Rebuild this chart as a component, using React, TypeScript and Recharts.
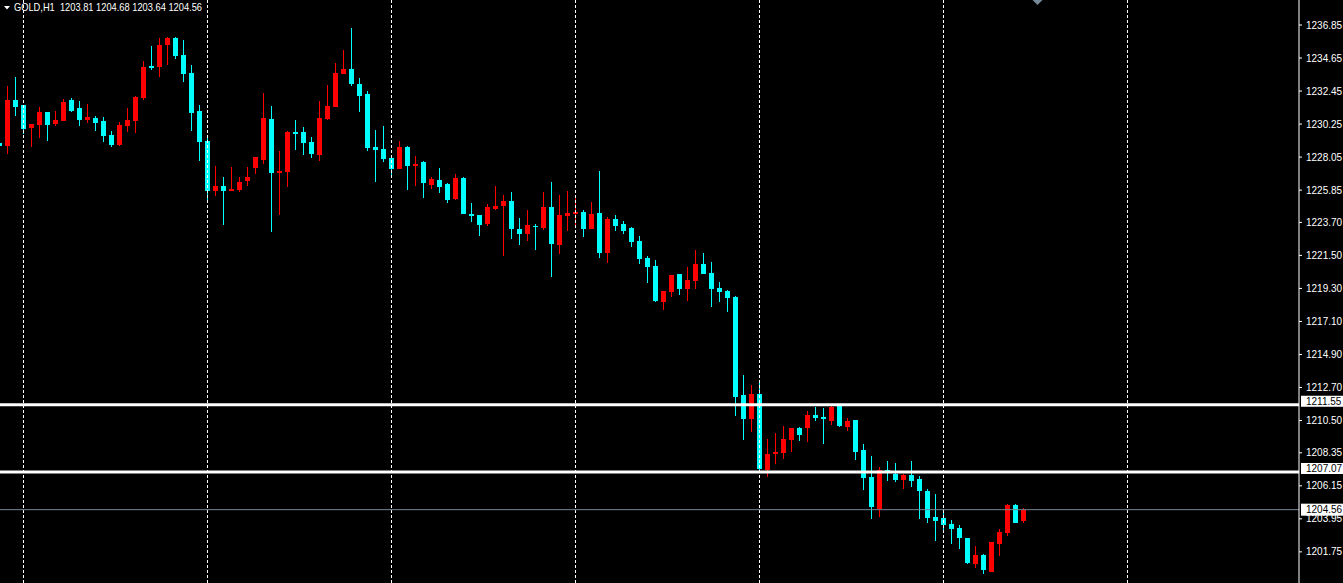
import React from 'react';
import { ComposedChart, Bar, XAxis, YAxis, ReferenceLine, ReferenceDot, Customized } from 'recharts';

const opens = [1228.99,1228.81,1231.87,1231.52,1230.01,1230.21,1231.05,1230.28,1230.47,1231.85,1231.32,1230.54,1230.65,1230.45,1229.52,1228.86,1230.14,1230.45,1231.99,1234.12,1234.05,1235.52,1236.00,1234.85,1233.65,1231.12,1229.12,1225.81,1226.12,1225.81,1225.88,1226.48,1227.34,1227.88,1230.59,1227.01,1227.08,1229.72,1229.72,1229.06,1228.21,1230.61,1231.41,1233.61,1233.92,1232.92,1232.25,1228.74,1228.59,1227.99,1227.26,1228.72,1227.48,1227.72,1226.19,1226.52,1226.26,1225.26,1226.66,1224.26,1224.19,1223.61,1224.59,1224.81,1225.13,1223.26,1222.95,1223.48,1223.33,1224.73,1222.21,1224.15,1224.28,1224.39,1223.26,1224.33,1221.68,1223.93,1223.59,1223.33,1222.46,1221.33,1220.80,1218.42,1219.08,1220.26,1219.28,1219.82,1220.93,1220.33,1219.33,1219.13,1218.73,1212.20,1210.60,1212.27,1207.20,1208.27,1208.34,1209.20,1210.00,1210.00,1210.87,1210.74,1210.47,1211.47,1210.07,1210.54,1208.54,1206.74,1204.61,1207.20,1206.94,1206.54,1206.87,1206.60,1205.81,1204.07,1204.01,1203.61,1203.34,1202.67,1200.94,1201.54,1200.41,1202.27,1203.01,1204.87,1203.81];
const highs = [1228.99,1232.79,1233.39,1231.52,1230.26,1231.39,1231.05,1231.12,1231.92,1231.99,1231.79,1231.59,1230.79,1230.72,1229.79,1230.39,1231.34,1232.12,1234.47,1235.47,1236.00,1236.07,1236.07,1235.85,1234.19,1231.52,1229.37,1227.46,1226.72,1227.39,1226.72,1227.39,1228.06,1232.32,1231.45,1228.46,1229.79,1230.52,1230.06,1229.39,1231.79,1232.85,1234.32,1235.19,1236.65,1233.32,1232.45,1229.86,1230.12,1228.14,1229.12,1228.79,1228.12,1227.79,1226.72,1227.32,1226.32,1226.92,1226.72,1224.99,1224.19,1224.93,1226.12,1225.53,1225.73,1223.99,1224.53,1223.59,1225.73,1226.39,1225.53,1225.79,1225.46,1224.53,1225.06,1227.12,1224.06,1224.19,1223.79,1223.39,1222.79,1221.46,1221.19,1219.13,1220.20,1220.26,1220.73,1221.88,1221.66,1221.06,1219.73,1219.20,1218.80,1213.53,1212.87,1213.00,1209.27,1209.67,1210.14,1210.00,1210.07,1211.13,1211.40,1211.33,1211.53,1211.60,1210.67,1210.54,1208.94,1208.14,1207.40,1207.80,1207.67,1206.94,1207.80,1206.80,1205.94,1205.61,1204.61,1203.87,1203.54,1202.67,1202.14,1201.61,1202.41,1203.27,1204.94,1204.94,1204.68];
const lows = [1228.79,1228.26,1230.79,1229.61,1228.74,1229.34,1229.14,1230.12,1230.47,1231.05,1230.12,1230.32,1229.79,1229.08,1228.74,1228.81,1229.72,1229.66,1231.85,1233.85,1233.39,1234.19,1234.59,1233.07,1229.81,1227.81,1225.21,1225.48,1223.55,1225.81,1225.74,1226.14,1226.94,1227.61,1223.08,1224.21,1226.08,1228.54,1228.21,1228.01,1227.81,1230.54,1231.41,1233.61,1232.81,1231.07,1228.48,1226.41,1227.74,1226.81,1227.26,1225.86,1226.14,1225.35,1225.92,1225.68,1225.01,1225.19,1224.28,1223.75,1222.81,1223.48,1224.53,1221.48,1222.61,1222.21,1222.48,1221.88,1223.19,1220.08,1221.61,1223.15,1223.33,1222.75,1223.26,1221.35,1221.01,1223.15,1222.95,1222.08,1220.95,1219.68,1218.40,1217.86,1218.75,1218.88,1218.48,1219.28,1220.26,1218.06,1218.40,1217.73,1210.80,1209.20,1209.74,1207.20,1206.74,1207.60,1207.94,1208.40,1209.14,1209.07,1210.47,1208.94,1210.20,1210.07,1209.80,1207.87,1205.87,1203.94,1204.07,1206.47,1206.40,1205.94,1206.07,1203.94,1203.67,1202.47,1203.21,1202.27,1201.94,1200.94,1200.68,1200.28,1200.41,1201.47,1202.81,1203.67,1203.64];
const closes = [1228.79,1231.87,1231.39,1229.94,1230.26,1231.05,1230.21,1230.52,1231.72,1231.14,1230.54,1230.72,1230.34,1229.48,1228.86,1230.19,1230.52,1232.05,1234.05,1234.01,1235.54,1236.00,1234.79,1233.61,1231.01,1229.08,1225.81,1226.12,1225.81,1225.92,1226.39,1226.72,1228.06,1230.65,1227.01,1227.12,1229.72,1229.61,1229.01,1228.28,1230.65,1231.45,1233.65,1233.92,1232.94,1232.14,1228.68,1228.54,1227.92,1227.26,1228.72,1227.48,1227.61,1226.34,1226.59,1226.06,1225.21,1226.66,1224.28,1224.15,1223.55,1224.73,1224.79,1225.13,1223.28,1222.95,1223.53,1223.37,1224.73,1222.28,1224.19,1224.33,1224.39,1223.26,1224.26,1221.68,1223.93,1223.48,1223.15,1222.41,1221.28,1220.75,1218.48,1219.13,1220.20,1219.28,1219.86,1220.93,1220.26,1219.26,1219.06,1218.66,1212.07,1210.60,1212.27,1207.27,1208.27,1208.40,1209.27,1210.00,1209.54,1210.87,1210.67,1210.60,1211.40,1210.14,1210.47,1208.40,1206.67,1204.74,1207.20,1207.07,1206.54,1206.87,1206.47,1205.81,1204.01,1203.81,1203.54,1203.27,1202.67,1201.01,1201.54,1200.54,1202.41,1203.07,1204.87,1203.67,1204.56];

const dayStarts = [3, 26, 49, 72, 95, 118, 141];
const priceTicks = [1236.85, 1234.65, 1232.45, 1230.25, 1228.05, 1225.85, 1223.70, 1221.50, 1219.30, 1217.10, 1214.90, 1212.70, 1210.50, 1208.35, 1206.15, 1203.95, 1201.75];
const levelLines = [1211.55, 1207.07];
const bidPrice = 1204.56;
const headerText = 'GOLD,H1  1203.81 1204.68 1203.64 1204.56';

const data = opens.map((o, i) => ({
  k: i,
  range: [lows[i], highs[i]],
  o,
  h: highs[i],
  l: lows[i],
  c: closes[i],
}));

const BULL = '#ff0000';
const BEAR = '#00ffff';

const Candle = (props: any) => {
  const { x, y, width, height, payload } = props;
  if (!payload) return null;
  const { o, h, l, c } = payload;
  const top = Math.min(y, y + height);
  const hgt = Math.abs(height);
  const px = (p: number) => (h === l ? top : top + ((h - p) / (h - l)) * hgt);
  const cx = Math.floor(x + width / 2) + 0.5;
  const color = c >= o ? BULL : BEAR;
  const bTop = px(Math.max(o, c));
  const bBot = px(Math.min(o, c));
  return (
    <g>
      <line x1={cx} x2={cx} y1={px(h)} y2={px(l)} stroke={color} strokeWidth={1} shapeRendering="crispEdges" />
      <rect x={cx - 2.5} y={bTop} width={5} height={Math.max(bBot - bTop, 1)} fill={color} shapeRendering="crispEdges" />
    </g>
  );
};

const PriceTick = (props: any) => {
  const { x, y, payload } = props;
  return (
    <text x={x} y={y} dy={3.5} fill="#ffffff" fontSize={10} fontFamily="Liberation Sans, Arial, sans-serif" textAnchor="start">
      {Number(payload.value).toFixed(2)}
    </text>
  );
};

const levelLabel = (value: number, centered: boolean) => (props: any) => {
  const vb = props.viewBox || {};
  const lx = (vb.x || 0) + (vb.width || 0) + 2;
  const ly = vb.y || 0;
  const top = centered ? ly - 6 : ly - 9;
  return (
    <g>
      <rect x={lx} y={top} width={42} height={centered ? 12 : 11} fill="#ffffff" />
      <text x={lx + 5} y={top + (centered ? 6 : 5.5)} dy={3.5} fill="#000000" fontSize={10} fontFamily="Liberation Sans, Arial, sans-serif">
        {value.toFixed(2)}
      </text>
    </g>
  );
};

const Header = () => (
  <g>
    <polygon points="4,6 10,6 7,9.5" fill="#ffffff" />
    <text x={14} y={11} fill="#ffffff" fontSize={10.5} fontFamily="Liberation Sans, Arial, sans-serif" textLength={188} lengthAdjust="spacingAndGlyphs" style={{ whiteSpace: 'pre' }}>
      {headerText}
    </text>
  </g>
);

const Diamond = (props: any) => {
  const { cx, cy } = props;
  return <polygon points={`${cx - 5},${cy} ${cx},${cy - 5} ${cx + 5},${cy} ${cx},${cy + 5}`} fill="#778899" />;
};

export default function App() {
  return (
    <div style={{ position: 'absolute', left: 0, top: 0, width: 1343, height: 583, background: '#000000', overflow: 'hidden' }}>
      <ComposedChart width={1343} height={583} data={data} margin={{ top: 0, right: 0, bottom: 0, left: 0 }} barGap={0}>
        <XAxis type="number" dataKey="k" domain={[0.0625, 162.4375]} allowDataOverflow hide />
        <YAxis
          orientation="right"
          type="number"
          domain={[1199.675, 1238.516]}
          allowDataOverflow
          ticks={priceTicks}
          interval={0}
          width={44}
          stroke="#ffffff"
          tickSize={3}
          tickMargin={4}
          tick={<PriceTick />}
        />
        {dayStarts.map((d) => (
          <ReferenceLine key={'d' + d} x={d} stroke="#ffffff" strokeDasharray="3 2" strokeWidth={1} />
        ))}
        <ReferenceLine y={bidPrice} stroke="#778899" strokeWidth={1} label={levelLabel(bidPrice, true)} />
        <Bar dataKey="range" barSize={5} isAnimationActive={false} shape={<Candle />} />
        {levelLines.map((v) => (
          <ReferenceLine key={'l' + v} y={v} stroke="#ffffff" strokeWidth={3} label={levelLabel(v, false)} />
        ))}
        <ReferenceDot x={129.75} y={1238.516} r={5} shape={<Diamond />} ifOverflow="visible" />
        <Customized component={<Header />} />
      </ComposedChart>
    </div>
  );
}
